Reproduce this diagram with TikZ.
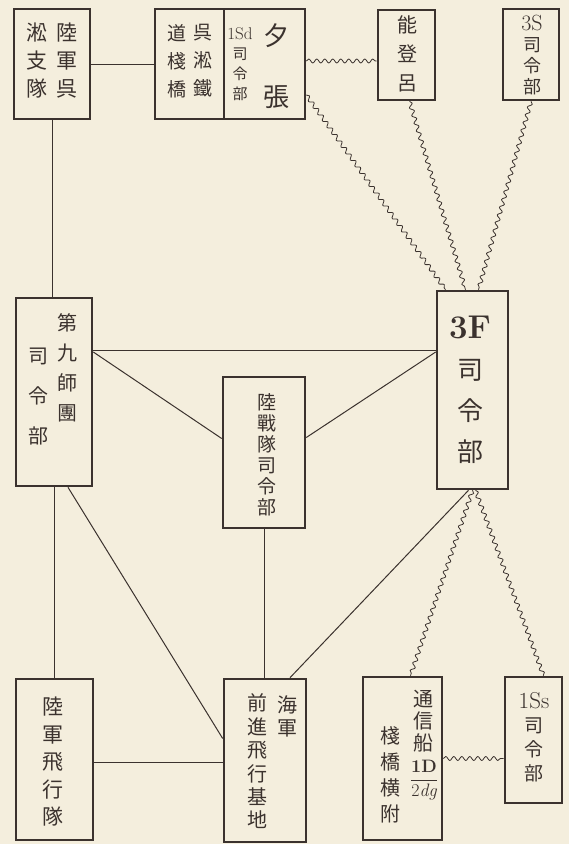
\documentclass[tikz,border=0pt]{standalone}
\usepackage{fontspec}
\newfontfamily\jp{Noto Sans CJK JP}
\usetikzlibrary{decorations.pathmorphing}
\definecolor{paper}{HTML}{F4EEDD}
\definecolor{ink}{HTML}{3B322E}
\tikzset{
  box/.style={draw=ink, line width=2.6pt, inner sep=0pt},
  link/.style={draw=ink, line width=1pt},
  wave/.style={draw=ink, line width=0.8pt, decorate,
    decoration={snake, segment length=8pt, amplitude=2pt}},
  tate/.style 2 args={text=ink, align=center, inner sep=0pt,
    font=\jp\fontsize{#1}{#2}\selectfont},
}
\begin{document}
\begin{tikzpicture}[x=1pt, y=-1pt]
    \fill[paper] (0,0) rectangle (569,844);

    \node[box, minimum width=76pt, minimum height=110pt] (rikugun)  at (52,64) {};
    \node[box, minimum width=69pt, minimum height=110pt] (sanbashi) at (189.5,64) {};
    \node[box, minimum width=81pt, minimum height=110pt] (yubari)   at (264.5,64) {};
    \node[box, minimum width=57pt, minimum height=90pt]  (noto)     at (406.5,55) {};
    \node[box, minimum width=56pt, minimum height=91pt]  (s3)       at (531,54.5) {};
    \node[box, minimum width=76pt, minimum height=188pt] (div9)     at (54,392) {};
    \node[box, minimum width=82pt, minimum height=151pt] (rikusen)  at (264,452.5) {};
    \node[box, minimum width=71pt, minimum height=198pt] (f3)       at (472.5,390) {};
    \node[box, minimum width=77pt, minimum height=161pt] (hikotai)  at (54.5,759.5) {};
    \node[box, minimum width=82pt, minimum height=163pt] (kichi)    at (265,760.5) {};
    \node[box, minimum width=79pt, minimum height=163pt] (tsushin)  at (402.5,758.5) {};
    \node[box, minimum width=57pt, minimum height=126pt] (ss1)      at (533.5,740) {};

    \node[tate={21}{28}] (rikugun-r) at (67,61) {陸\\軍\\呉};
    \node[tate={21}{28}] (rikugun-l) at (37,61) {淞\\支\\隊};
    \node[tate={19}{28}] (sanbashi-r) at (203,61) {呉\\淞\\鐵};
    \node[tate={19}{28}] (sanbashi-l) at (177,61) {道\\棧\\橋};
    \node[tate={15}{20}] (yubari-l) at (240,64) {{\rmfamily\fontsize{17}{17}\selectfont 1Sd}\\司\\令\\部};
    \node[tate={26}{26}] (yubari-a) at (276,36) {夕};
    \node[tate={26}{26}] (yubari-b) at (276,97) {張};
    \node[tate={20}{29}] (noto-t) at (407,54) {能\\登\\呂};
    \node[tate={18}{21}] (s3-t) at (532,55) {{\rmfamily\fontsize{22}{22}\selectfont 3S}\\司\\令\\部};
    \node[tate={20}{30}] (div9-r) at (67,368) {第\\九\\師\\團};
    \node[tate={20}{40}] (div9-l) at (38,397) {司\\令\\部};
    \node[tate={19}{21}] (rikusen-t) at (267,455) {陸\\戰\\隊\\司\\令\\部};
    \node[tate={26}{41}] (f3-t) at (470,390) {{\rmfamily\bfseries\fontsize{33}{33}\selectfont 3F}\\司\\令\\部};
    \node[tate={21}{27.5}] (hikotai-t) at (53,762) {陸\\軍\\飛\\行\\隊};
    \node[tate={20}{23}] (kichi-r) at (287,716) {海\\軍};
    \node[tate={20}{23.4}] (kichi-l) at (257,761.5) {前\\進\\飛\\行\\基\\地};
    \node[tate={20}{22}] (tsushin-r) at (423,721) {通\\信\\船};
    \node[text=ink, inner sep=0pt, font=\rmfamily\fontsize{18}{18}\selectfont] (tsushin-f) at (424,780)
        {$\displaystyle\frac{\mbox{\bfseries 1D}}{\mbox{2\itshape dg}}$};
    \node[tate={20}{26}] (tsushin-l) at (390,775) {棧\\橋\\横\\附};
    \node[tate={19}{24}] (ss1-t) at (534,737) {{\rmfamily\fontsize{23}{23}\selectfont 1Ss}\\司\\令\\部};

    \draw[link] (rikugun) -- (sanbashi);
    \draw[link] (rikugun.south) -- (rikugun.south |- div9.north);
    \draw[link] ([yshift=42pt]div9.east) -- ([yshift=42pt]div9.east -| f3.west);
    \draw[link] ([yshift=40pt]div9.east) -- ([yshift=14pt]rikusen.west);
    \draw[link] ([yshift=15pt]rikusen.east) -- ([yshift=38pt]f3.west);
    \draw[link] (div9.south) -- (div9.south |- hikotai.north);
    \draw[link] ([xshift=14pt]div9.south) -- ([yshift=22pt]kichi.west);
    \draw[link] (rikusen.south) -- (rikusen.south |- kichi.north);
    \draw[link] ([yshift=-3pt]hikotai.east) -- ([yshift=-3pt]hikotai.east -| kichi.west);
    \draw[link] ([xshift=-4pt]f3.south) -- ([xshift=25pt]kichi.north);

    \draw[wave] ([yshift=3pt]yubari.east) -- ([yshift=3pt]yubari.east -| noto.west);
    \draw[wave] ([yshift=-31pt]yubari.east) -- ([xshift=-27pt]f3.north);
    \draw[wave] ([xshift=3pt]noto.south) -- ([xshift=-7pt]f3.north);
    \draw[wave] (s3.south) -- ([xshift=6pt]f3.north);
    \draw[wave] (f3.south) -- ([xshift=8pt]tsushin.north);
    \draw[wave] ([xshift=3pt]f3.south) -- ([xshift=10pt]ss1.north);
    \draw[wave] (tsushin.east) -- (tsushin.east -| ss1.west);
\end{tikzpicture}
\end{document}
